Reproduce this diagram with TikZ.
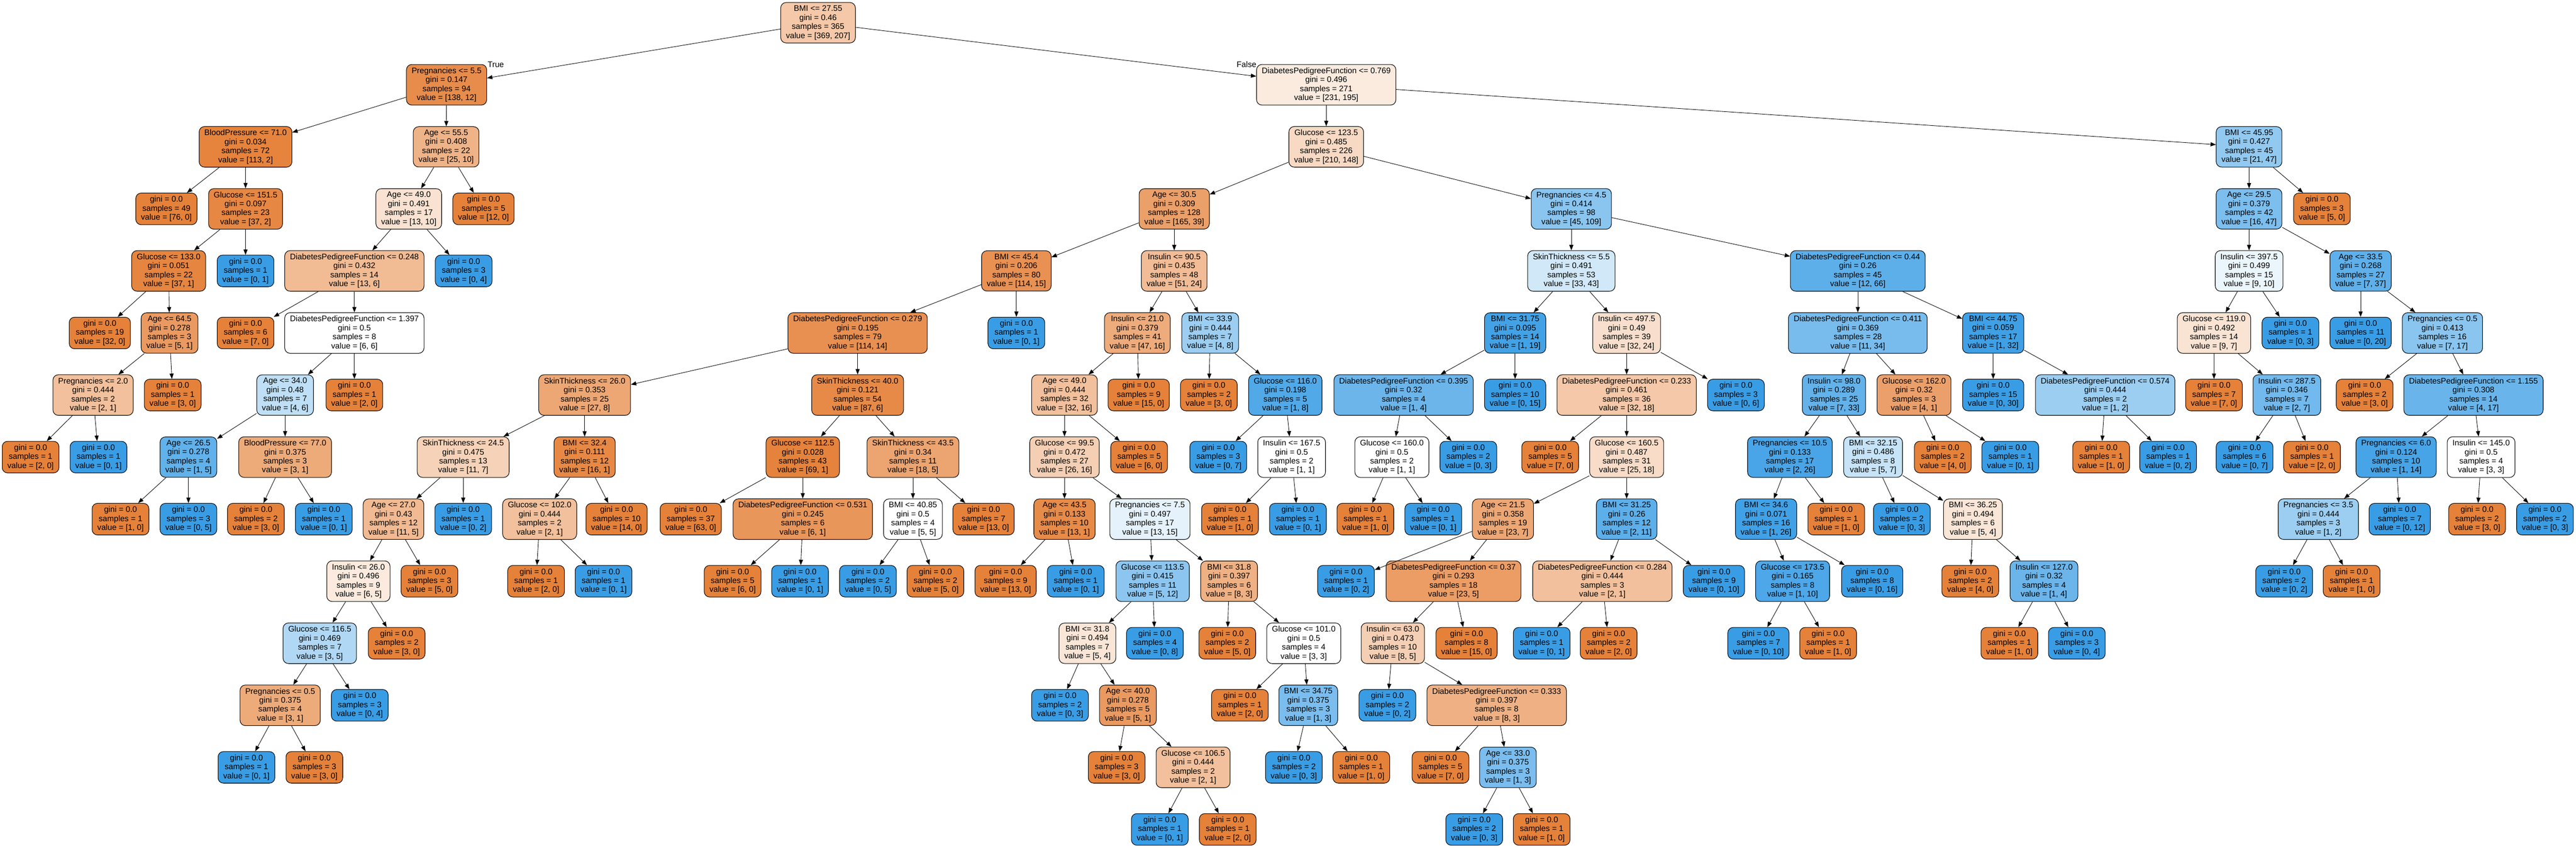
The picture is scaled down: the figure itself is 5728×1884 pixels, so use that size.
\documentclass[tikz,border=0pt]{standalone}
\usepackage{fontspec}
\setmainfont{Liberation Sans}
\usetikzlibrary{arrows.meta}
\definecolor{orangecls}{RGB}{229,129,57}
\definecolor{bluecls}{RGB}{57,157,229}
\tikzset{
  split/.style={draw, line width=0.6pt, rounded corners=6pt, align=center, inner xsep=5.8pt, inner ysep=3.4pt, font=\fontsize{8.95}{10}\selectfont},
  tinto/.style={split, fill=orangecls!#1!white},
  tintb/.style={split, fill=bluecls!#1!white},
  leafo/.style={split, fill=orangecls},
  leafb/.style={split, fill=bluecls},
  edge/.style={-{Triangle[length=6pt,width=4.5pt]}, line width=0.5pt},
  edgelbl/.style={inner sep=0pt, font=\fontsize{8.95}{10}\selectfont}
}
\begin{document}
\begin{tikzpicture}[x=0.5pt,y=0.5pt,yscale=-1,xscale=1]
\useasboundingbox (0,0) rectangle (5728,1884);

%Tree: left branch (BMI <= 27.55 true)
\draw (1819,50.5) node [tinto=44] (n0) {BMI <= 27.55\\gini = 0.46\\samples = 365\\value = [369, 207]};
\draw (993,188.4) node [tinto=91] (n1) {Pregnancies <= 5.5\\gini = 0.147\\samples = 94\\value = [138, 12]};
\draw (546,326.3) node [tinto=98] (n2) {BloodPressure <= 71.0\\gini = 0.034\\samples = 72\\value = [113, 2]};
\draw (370,464.2) node [leafo] (n3) {gini = 0.0\\samples = 49\\value = [76, 0]};
\draw (546,464.2) node [tinto=95] (n4) {Glucose <= 151.5\\gini = 0.097\\samples = 23\\value = [37, 2]};
\draw (375,602.1) node [tinto=97] (n5) {Glucose <= 133.0\\gini = 0.051\\samples = 22\\value = [37, 1]};
\draw (222,740) node [leafo] (n6) {gini = 0.0\\samples = 19\\value = [32, 0]};
\draw (377,740) node [tinto=80] (n7) {Age <= 64.5\\gini = 0.278\\samples = 3\\value = [5, 1]};
\draw (207,877.9) node [tinto=50] (n8) {Pregnancies <= 2.0\\gini = 0.444\\samples = 2\\value = [2, 1]};
\draw (68,1015.8) node [leafo] (n9) {gini = 0.0\\samples = 1\\value = [2, 0]};
\draw (219,1015.8) node [leafb] (n10) {gini = 0.0\\samples = 1\\value = [0, 1]};
\draw (384,877.9) node [leafo] (n11) {gini = 0.0\\samples = 1\\value = [3, 0]};
\draw (546,602.1) node [leafb] (n12) {gini = 0.0\\samples = 1\\value = [0, 1]};
\draw (992,326.3) node [tinto=60] (n13) {Age <= 55.5\\gini = 0.408\\samples = 22\\value = [25, 10]};
\draw (909,464.2) node [tinto=23] (n14) {Age <= 49.0\\gini = 0.491\\samples = 17\\value = [13, 10]};
\draw (788,602.1) node [tinto=54] (n15) {DiabetesPedigreeFunction <= 0.248\\gini = 0.432\\samples = 14\\value = [13, 6]};
\draw (546,740) node [leafo] (n16) {gini = 0.0\\samples = 6\\value = [7, 0]};
\draw (788,740) node [tinto=0] (n17) {DiabetesPedigreeFunction <= 1.397\\gini = 0.5\\samples = 8\\value = [6, 6]};
\draw (634,877.9) node [tintb=33] (n18) {Age <= 34.0\\gini = 0.48\\samples = 7\\value = [4, 6]};
\draw (419,1015.8) node [tintb=80] (n19) {Age <= 26.5\\gini = 0.278\\samples = 4\\value = [1, 5]};
\draw (268,1153.7) node [leafo] (n20) {gini = 0.0\\samples = 1\\value = [1, 0]};
\draw (419,1153.7) node [leafb] (n21) {gini = 0.0\\samples = 3\\value = [0, 5]};
\draw (634,1015.8) node [tinto=67] (n22) {BloodPressure <= 77.0\\gini = 0.375\\samples = 3\\value = [3, 1]};
\draw (569,1153.7) node [leafo] (n23) {gini = 0.0\\samples = 2\\value = [3, 0]};
\draw (720,1153.7) node [leafb] (n24) {gini = 0.0\\samples = 1\\value = [0, 1]};
\draw (788,877.9) node [leafo] (n25) {gini = 0.0\\samples = 1\\value = [2, 0]};
\draw (1031,602.1) node [leafb] (n26) {gini = 0.0\\samples = 3\\value = [0, 4]};
\draw (1075,464.2) node [leafo] (n27) {gini = 0.0\\samples = 5\\value = [12, 0]};

%Tree: right branch, Glucose <= 123.5 true
\draw (2949,188.4) node [tinto=16] (n28) {DiabetesPedigreeFunction <= 0.769\\gini = 0.496\\samples = 271\\value = [231, 195]};
\draw (2949,326.3) node [tinto=30] (n29) {Glucose <= 123.5\\gini = 0.485\\samples = 226\\value = [210, 148]};
\draw (2611,464.2) node [tinto=76] (n30) {Age <= 30.5\\gini = 0.309\\samples = 128\\value = [165, 39]};
\draw (2260,602.1) node [tinto=87] (n31) {BMI <= 45.4\\gini = 0.206\\samples = 80\\value = [114, 15]};
\draw (1907,740) node [tinto=88] (n32) {DiabetesPedigreeFunction <= 0.279\\gini = 0.195\\samples = 79\\value = [114, 14]};
\draw (1300,877.9) node [tinto=70] (n33) {SkinThickness <= 26.0\\gini = 0.353\\samples = 25\\value = [27, 8]};
\draw (1030,1015.8) node [tinto=36] (n34) {SkinThickness <= 24.5\\gini = 0.475\\samples = 13\\value = [11, 7]};
\draw (875,1153.7) node [tinto=55] (n35) {Age <= 27.0\\gini = 0.43\\samples = 12\\value = [11, 5]};
\draw (797,1291.6) node [tinto=17] (n36) {Insulin <= 26.0\\gini = 0.496\\samples = 9\\value = [6, 5]};
\draw (711,1429.5) node [tintb=40] (n37) {Glucose <= 116.5\\gini = 0.469\\samples = 7\\value = [3, 5]};
\draw (623,1567.4) node [tinto=67] (n38) {Pregnancies <= 0.5\\gini = 0.375\\samples = 4\\value = [3, 1]};
\draw (548,1705.3) node [leafb] (n39) {gini = 0.0\\samples = 1\\value = [0, 1]};
\draw (699,1705.3) node [leafo] (n40) {gini = 0.0\\samples = 3\\value = [3, 0]};
\draw (800,1567.4) node [leafb] (n41) {gini = 0.0\\samples = 3\\value = [0, 4]};
\draw (882,1429.5) node [leafo] (n42) {gini = 0.0\\samples = 2\\value = [3, 0]};
\draw (955,1291.6) node [leafo] (n43) {gini = 0.0\\samples = 3\\value = [5, 0]};
\draw (1030,1153.7) node [leafb] (n44) {gini = 0.0\\samples = 1\\value = [0, 2]};
\draw (1300,1015.8) node [tinto=94] (n45) {BMI <= 32.4\\gini = 0.111\\samples = 12\\value = [16, 1]};
\draw (1200,1153.7) node [tinto=50] (n46) {Glucose <= 102.0\\gini = 0.444\\samples = 2\\value = [2, 1]};
\draw (1192,1291.6) node [leafo] (n47) {gini = 0.0\\samples = 1\\value = [2, 0]};
\draw (1342,1291.6) node [leafb] (n48) {gini = 0.0\\samples = 1\\value = [0, 1]};
\draw (1371,1153.7) node [leafo] (n49) {gini = 0.0\\samples = 10\\value = [14, 0]};
\draw (1907,877.9) node [tinto=93] (n50) {SkinThickness <= 40.0\\gini = 0.121\\samples = 54\\value = [87, 6]};
\draw (1785,1015.8) node [tinto=99] (n51) {Glucose <= 112.5\\gini = 0.028\\samples = 43\\value = [69, 1]};
\draw (1536,1153.7) node [leafo] (n52) {gini = 0.0\\samples = 37\\value = [63, 0]};
\draw (1785,1153.7) node [tinto=83] (n53) {DiabetesPedigreeFunction <= 0.531\\gini = 0.245\\samples = 6\\value = [6, 1]};
\draw (1629,1291.6) node [leafo] (n54) {gini = 0.0\\samples = 5\\value = [6, 0]};
\draw (1779,1291.6) node [leafb] (n55) {gini = 0.0\\samples = 1\\value = [0, 1]};
\draw (2030,1015.8) node [tinto=72] (n56) {SkinThickness <= 43.5\\gini = 0.34\\samples = 11\\value = [18, 5]};
\draw (2030,1153.7) node [tinto=0] (n57) {BMI <= 40.85\\gini = 0.5\\samples = 4\\value = [5, 5]};
\draw (1930,1291.6) node [leafb] (n58) {gini = 0.0\\samples = 2\\value = [0, 5]};
\draw (2080,1291.6) node [leafo] (n59) {gini = 0.0\\samples = 2\\value = [5, 0]};
\draw (2187,1153.7) node [leafo] (n60) {gini = 0.0\\samples = 7\\value = [13, 0]};
\draw (2260,740) node [leafb] (n61) {gini = 0.0\\samples = 1\\value = [0, 1]};
\draw (2611,602.1) node [tinto=53] (n62) {Insulin <= 90.5\\gini = 0.435\\samples = 48\\value = [51, 24]};
\draw (2529,740) node [tinto=66] (n63) {Insulin <= 21.0\\gini = 0.379\\samples = 41\\value = [47, 16]};
\draw (2367,877.9) node [tinto=50] (n64) {Age <= 49.0\\gini = 0.444\\samples = 32\\value = [32, 16]};
\draw (2367,1015.8) node [tinto=38] (n65) {Glucose <= 99.5\\gini = 0.472\\samples = 27\\value = [26, 16]};
\draw (2367,1153.7) node [tinto=92] (n66) {Age <= 43.5\\gini = 0.133\\samples = 10\\value = [13, 1]};
\draw (2236,1291.6) node [leafo] (n67) {gini = 0.0\\samples = 9\\value = [13, 0]};
\draw (2392,1291.6) node [leafb] (n68) {gini = 0.0\\samples = 1\\value = [0, 1]};
\draw (2557,1153.7) node [tintb=13] (n69) {Pregnancies <= 7.5\\gini = 0.497\\samples = 17\\value = [13, 15]};
\draw (2563,1291.6) node [tintb=58] (n70) {Glucose <= 113.5\\gini = 0.415\\samples = 11\\value = [5, 12]};
\draw (2418,1429.5) node [tinto=20] (n71) {BMI <= 31.8\\gini = 0.494\\samples = 7\\value = [5, 4]};
\draw (2357,1567.4) node [leafb] (n72) {gini = 0.0\\samples = 2\\value = [0, 3]};
\draw (2508,1567.4) node [tinto=80] (n73) {Age <= 40.0\\gini = 0.278\\samples = 5\\value = [5, 1]};
\draw (2483,1705.3) node [leafo] (n74) {gini = 0.0\\samples = 3\\value = [3, 0]};
\draw (2653,1705.3) node [tinto=50] (n75) {Glucose <= 106.5\\gini = 0.444\\samples = 2\\value = [2, 1]};
\draw (2579,1843.2) node [leafb] (n76) {gini = 0.0\\samples = 1\\value = [0, 1]};
\draw (2730,1843.2) node [leafo] (n77) {gini = 0.0\\samples = 1\\value = [2, 0]};
\draw (2568,1429.5) node [leafb] (n78) {gini = 0.0\\samples = 4\\value = [0, 8]};
\draw (2733,1291.6) node [tinto=62] (n79) {BMI <= 31.8\\gini = 0.397\\samples = 6\\value = [8, 3]};
\draw (2729,1429.5) node [leafo] (n80) {gini = 0.0\\samples = 2\\value = [5, 0]};
\draw (2899,1429.5) node [tinto=0] (n81) {Glucose <= 101.0\\gini = 0.5\\samples = 4\\value = [3, 3]};
\draw (2757,1567.4) node [leafo] (n82) {gini = 0.0\\samples = 1\\value = [2, 0]};
\draw (2909,1567.4) node [tintb=67] (n83) {BMI <= 34.75\\gini = 0.375\\samples = 3\\value = [1, 3]};
\draw (2877,1705.3) node [leafb] (n84) {gini = 0.0\\samples = 2\\value = [0, 3]};
\draw (3027,1705.3) node [leafo] (n85) {gini = 0.0\\samples = 1\\value = [1, 0]};
\draw (2533,1015.8) node [leafo] (n86) {gini = 0.0\\samples = 5\\value = [6, 0]};
\draw (2532,877.9) node [leafo] (n87) {gini = 0.0\\samples = 9\\value = [15, 0]};
\draw (2691,740) node [tintb=50] (n88) {BMI <= 33.9\\gini = 0.444\\samples = 7\\value = [4, 8]};
\draw (2688,877.9) node [leafo] (n89) {gini = 0.0\\samples = 2\\value = [3, 0]};
\draw (2858,877.9) node [tintb=88] (n90) {Glucose <= 116.0\\gini = 0.198\\samples = 5\\value = [1, 8]};
\draw (2709,1015.8) node [leafb] (n91) {gini = 0.0\\samples = 3\\value = [0, 7]};
\draw (2872,1015.8) node [tinto=0] (n92) {Insulin <= 167.5\\gini = 0.5\\samples = 2\\value = [1, 1]};
\draw (2735,1153.7) node [leafo] (n93) {gini = 0.0\\samples = 1\\value = [1, 0]};
\draw (2886,1153.7) node [leafb] (n94) {gini = 0.0\\samples = 1\\value = [0, 1]};

%Tree: right branch, Glucose <= 123.5 false
\draw (3494,464.2) node [tintb=59] (n95) {Pregnancies <= 4.5\\gini = 0.414\\samples = 98\\value = [45, 109]};
\draw (3494,602.1) node [tintb=23] (n96) {SkinThickness <= 5.5\\gini = 0.491\\samples = 53\\value = [33, 43]};
\draw (3369,740) node [tintb=95] (n97) {BMI <= 31.75\\gini = 0.095\\samples = 14\\value = [1, 19]};
\draw (3121,877.9) node [tintb=75] (n98) {DiabetesPedigreeFunction <= 0.395\\gini = 0.32\\samples = 4\\value = [1, 4]};
\draw (3095,1015.8) node [tinto=0] (n99) {Glucose <= 160.0\\gini = 0.5\\samples = 2\\value = [1, 1]};
\draw (3036,1153.7) node [leafo] (n100) {gini = 0.0\\samples = 1\\value = [1, 0]};
\draw (3187,1153.7) node [leafb] (n101) {gini = 0.0\\samples = 1\\value = [0, 1]};
\draw (3265,1015.8) node [leafb] (n102) {gini = 0.0\\samples = 2\\value = [0, 3]};
\draw (3369,877.9) node [leafb] (n103) {gini = 0.0\\samples = 10\\value = [0, 15]};
\draw (3617,740) node [tinto=25] (n104) {Insulin <= 497.5\\gini = 0.49\\samples = 39\\value = [32, 24]};
\draw (3617,877.9) node [tinto=44] (n105) {DiabetesPedigreeFunction <= 0.233\\gini = 0.461\\samples = 36\\value = [32, 18]};
\draw (3447,1015.8) node [leafo] (n106) {gini = 0.0\\samples = 5\\value = [7, 0]};
\draw (3617,1015.8) node [tinto=28] (n107) {Glucose <= 160.5\\gini = 0.487\\samples = 31\\value = [25, 18]};
\draw (3342,1153.7) node [tinto=70] (n108) {Age <= 21.5\\gini = 0.358\\samples = 19\\value = [23, 7]};
\draw (2993,1291.6) node [leafb] (n109) {gini = 0.0\\samples = 1\\value = [0, 2]};
\draw (3232,1291.6) node [tinto=78] (n110) {DiabetesPedigreeFunction <= 0.37\\gini = 0.293\\samples = 18\\value = [23, 5]};
\draw (3097,1429.5) node [tinto=38] (n111) {Insulin <= 63.0\\gini = 0.473\\samples = 10\\value = [8, 5]};
\draw (3085,1567.4) node [leafb] (n112) {gini = 0.0\\samples = 2\\value = [0, 2]};
\draw (3328,1567.4) node [tinto=62] (n113) {DiabetesPedigreeFunction <= 0.333\\gini = 0.397\\samples = 8\\value = [8, 3]};
\draw (3203,1705.3) node [leafo] (n114) {gini = 0.0\\samples = 5\\value = [7, 0]};
\draw (3353,1705.3) node [tintb=67] (n115) {Age <= 33.0\\gini = 0.375\\samples = 3\\value = [1, 3]};
\draw (3278,1843.2) node [leafb] (n116) {gini = 0.0\\samples = 2\\value = [0, 3]};
\draw (3428,1843.2) node [leafo] (n117) {gini = 0.0\\samples = 1\\value = [1, 0]};
\draw (3261,1429.5) node [leafo] (n118) {gini = 0.0\\samples = 8\\value = [15, 0]};
\draw (3617,1153.7) node [tintb=82] (n119) {BMI <= 31.25\\gini = 0.26\\samples = 12\\value = [2, 11]};
\draw (3563,1291.6) node [tinto=50] (n120) {DiabetesPedigreeFunction <= 0.284\\gini = 0.444\\samples = 3\\value = [2, 1]};
\draw (3428,1429.5) node [leafb] (n121) {gini = 0.0\\samples = 1\\value = [0, 1]};
\draw (3577,1429.5) node [leafo] (n122) {gini = 0.0\\samples = 2\\value = [2, 0]};
\draw (3811,1291.6) node [leafb] (n123) {gini = 0.0\\samples = 9\\value = [0, 10]};
\draw (3860,877.9) node [leafb] (n124) {gini = 0.0\\samples = 3\\value = [0, 6]};
\draw (4131,602.1) node [tintb=82] (n125) {DiabetesPedigreeFunction <= 0.44\\gini = 0.26\\samples = 45\\value = [12, 66]};
\draw (4131,740) node [tintb=68] (n126) {DiabetesPedigreeFunction <= 0.411\\gini = 0.369\\samples = 28\\value = [11, 34]};
\draw (4078,877.9) node [tintb=79] (n127) {Insulin <= 98.0\\gini = 0.289\\samples = 25\\value = [7, 33]};
\draw (3980,1015.8) node [tintb=92] (n128) {Pregnancies <= 10.5\\gini = 0.133\\samples = 17\\value = [2, 26]};
\draw (3927,1153.7) node [tintb=96] (n129) {BMI <= 34.6\\gini = 0.071\\samples = 16\\value = [1, 26]};
\draw (3986,1291.6) node [tintb=90] (n130) {Glucose <= 173.5\\gini = 0.165\\samples = 8\\value = [1, 10]};
\draw (3910,1429.5) node [leafb] (n131) {gini = 0.0\\samples = 7\\value = [0, 10]};
\draw (4065,1429.5) node [leafo] (n132) {gini = 0.0\\samples = 1\\value = [1, 0]};
\draw (4163,1291.6) node [leafb] (n133) {gini = 0.0\\samples = 8\\value = [0, 16]};
\draw (4083,1153.7) node [leafo] (n134) {gini = 0.0\\samples = 1\\value = [1, 0]};
\draw (4165,1015.8) node [tintb=29] (n135) {BMI <= 32.15\\gini = 0.486\\samples = 8\\value = [5, 7]};
\draw (4229,1153.7) node [leafb] (n136) {gini = 0.0\\samples = 2\\value = [0, 3]};
\draw (4387,1153.7) node [tinto=20] (n137) {BMI <= 36.25\\gini = 0.494\\samples = 6\\value = [5, 4]};
\draw (4381,1291.6) node [leafo] (n138) {gini = 0.0\\samples = 2\\value = [4, 0]};
\draw (4545,1291.6) node [tintb=75] (n139) {Insulin <= 127.0\\gini = 0.32\\samples = 4\\value = [1, 4]};
\draw (4468,1429.5) node [leafo] (n140) {gini = 0.0\\samples = 1\\value = [1, 0]};
\draw (4618,1429.5) node [leafb] (n141) {gini = 0.0\\samples = 3\\value = [0, 4]};
\draw (4256,877.9) node [tinto=75] (n142) {Glucose <= 162.0\\gini = 0.32\\samples = 3\\value = [4, 1]};
\draw (4320,1015.8) node [leafo] (n143) {gini = 0.0\\samples = 2\\value = [4, 0]};
\draw (4470,1015.8) node [leafb] (n144) {gini = 0.0\\samples = 1\\value = [0, 1]};
\draw (4432,740) node [tintb=97] (n145) {BMI <= 44.75\\gini = 0.059\\samples = 17\\value = [1, 32]};
\draw (4432,877.9) node [leafb] (n146) {gini = 0.0\\samples = 15\\value = [0, 30]};
\draw (4681,877.9) node [tintb=50] (n147) {DiabetesPedigreeFunction <= 0.574\\gini = 0.444\\samples = 2\\value = [1, 2]};
\draw (4672,1015.8) node [leafo] (n148) {gini = 0.0\\samples = 1\\value = [1, 0]};
\draw (4821,1015.8) node [leafb] (n149) {gini = 0.0\\samples = 1\\value = [0, 2]};

%Tree: right branch, BMI <= 45.95
\draw (5001,326.3) node [tintb=55] (n150) {BMI <= 45.95\\gini = 0.427\\samples = 45\\value = [21, 47]};
\draw (5001,464.2) node [tintb=66] (n151) {Age <= 29.5\\gini = 0.379\\samples = 42\\value = [16, 47]};
\draw (5001,602.1) node [tintb=10] (n152) {Insulin <= 397.5\\gini = 0.499\\samples = 15\\value = [9, 10]};
\draw (4923,740) node [tinto=22] (n153) {Glucose <= 119.0\\gini = 0.492\\samples = 14\\value = [9, 7]};
\draw (4923,877.9) node [leafo] (n154) {gini = 0.0\\samples = 7\\value = [7, 0]};
\draw (5085,877.9) node [tintb=71] (n155) {Insulin <= 287.5\\gini = 0.346\\samples = 7\\value = [2, 7]};
\draw (4991,1015.8) node [leafb] (n156) {gini = 0.0\\samples = 6\\value = [0, 7]};
\draw (5141,1015.8) node [leafo] (n157) {gini = 0.0\\samples = 1\\value = [2, 0]};
\draw (5093,740) node [leafb] (n158) {gini = 0.0\\samples = 1\\value = [0, 3]};
\draw (5249,602.1) node [tintb=81] (n159) {Age <= 33.5\\gini = 0.268\\samples = 27\\value = [7, 37]};
\draw (5249,740) node [leafb] (n160) {gini = 0.0\\samples = 11\\value = [0, 20]};
\draw (5431,740) node [tintb=59] (n161) {Pregnancies <= 0.5\\gini = 0.413\\samples = 16\\value = [7, 17]};
\draw (5258,877.9) node [leafo] (n162) {gini = 0.0\\samples = 2\\value = [3, 0]};
\draw (5500,877.9) node [tintb=76] (n163) {DiabetesPedigreeFunction <= 1.155\\gini = 0.308\\samples = 14\\value = [4, 17]};
\draw (5328,1015.8) node [tintb=93] (n164) {Pregnancies <= 6.0\\gini = 0.124\\samples = 10\\value = [1, 14]};
\draw (5155,1153.7) node [tintb=50] (n165) {Pregnancies <= 3.5\\gini = 0.444\\samples = 3\\value = [1, 2]};
\draw (5079,1291.6) node [leafb] (n166) {gini = 0.0\\samples = 2\\value = [0, 2]};
\draw (5229,1291.6) node [leafo] (n167) {gini = 0.0\\samples = 1\\value = [1, 0]};
\draw (5336,1153.7) node [leafb] (n168) {gini = 0.0\\samples = 7\\value = [0, 12]};
\draw (5517,1015.8) node [tinto=0] (n169) {Insulin <= 145.0\\gini = 0.5\\samples = 4\\value = [3, 3]};
\draw (5508,1153.7) node [leafo] (n170) {gini = 0.0\\samples = 2\\value = [3, 0]};
\draw (5659,1153.7) node [leafb] (n171) {gini = 0.0\\samples = 2\\value = [0, 3]};
\draw (5163,464.2) node [leafo] (n172) {gini = 0.0\\samples = 3\\value = [5, 0]};

% Text Node
\draw (1084,150) node [edgelbl, anchor=base west] (lbltrue) {True};
% Text Node
\draw (2794,149) node [edgelbl, anchor=base east] (lblfalse) {False};

%Straight Lines
\draw [edge] (n0) -- (n1);
\draw [edge] (n0) -- (n28);
\draw [edge] (n1) -- (n2);
\draw [edge] (n1) -- (n13);
\draw [edge] (n2) -- (n3);
\draw [edge] (n2) -- (n4);
\draw [edge] (n4) -- (n5);
\draw [edge] (n4) -- (n12);
\draw [edge] (n5) -- (n6);
\draw [edge] (n5) -- (n7);
\draw [edge] (n7) -- (n8);
\draw [edge] (n7) -- (n11);
\draw [edge] (n8) -- (n9);
\draw [edge] (n8) -- (n10);
\draw [edge] (n13) -- (n14);
\draw [edge] (n13) -- (n27);
\draw [edge] (n14) -- (n15);
\draw [edge] (n14) -- (n26);
\draw [edge] (n15) -- (n16);
\draw [edge] (n15) -- (n17);
\draw [edge] (n17) -- (n18);
\draw [edge] (n17) -- (n25);
\draw [edge] (n18) -- (n19);
\draw [edge] (n18) -- (n22);
\draw [edge] (n19) -- (n20);
\draw [edge] (n19) -- (n21);
\draw [edge] (n22) -- (n23);
\draw [edge] (n22) -- (n24);
\draw [edge] (n28) -- (n29);
\draw [edge] (n28) -- (n150);
\draw [edge] (n29) -- (n30);
\draw [edge] (n29) -- (n95);
\draw [edge] (n30) -- (n31);
\draw [edge] (n30) -- (n62);
\draw [edge] (n31) -- (n32);
\draw [edge] (n31) -- (n61);
\draw [edge] (n32) -- (n33);
\draw [edge] (n32) -- (n50);
\draw [edge] (n33) -- (n34);
\draw [edge] (n33) -- (n45);
\draw [edge] (n34) -- (n35);
\draw [edge] (n34) -- (n44);
\draw [edge] (n35) -- (n36);
\draw [edge] (n35) -- (n43);
\draw [edge] (n36) -- (n37);
\draw [edge] (n36) -- (n42);
\draw [edge] (n37) -- (n38);
\draw [edge] (n37) -- (n41);
\draw [edge] (n38) -- (n39);
\draw [edge] (n38) -- (n40);
\draw [edge] (n45) -- (n46);
\draw [edge] (n45) -- (n49);
\draw [edge] (n46) -- (n47);
\draw [edge] (n46) -- (n48);
\draw [edge] (n50) -- (n51);
\draw [edge] (n50) -- (n56);
\draw [edge] (n51) -- (n52);
\draw [edge] (n51) -- (n53);
\draw [edge] (n53) -- (n54);
\draw [edge] (n53) -- (n55);
\draw [edge] (n56) -- (n57);
\draw [edge] (n56) -- (n60);
\draw [edge] (n57) -- (n58);
\draw [edge] (n57) -- (n59);
\draw [edge] (n62) -- (n63);
\draw [edge] (n62) -- (n88);
\draw [edge] (n63) -- (n64);
\draw [edge] (n63) -- (n87);
\draw [edge] (n64) -- (n65);
\draw [edge] (n64) -- (n86);
\draw [edge] (n65) -- (n66);
\draw [edge] (n65) -- (n69);
\draw [edge] (n66) -- (n67);
\draw [edge] (n66) -- (n68);
\draw [edge] (n69) -- (n70);
\draw [edge] (n69) -- (n79);
\draw [edge] (n70) -- (n71);
\draw [edge] (n70) -- (n78);
\draw [edge] (n71) -- (n72);
\draw [edge] (n71) -- (n73);
\draw [edge] (n73) -- (n74);
\draw [edge] (n73) -- (n75);
\draw [edge] (n75) -- (n76);
\draw [edge] (n75) -- (n77);
\draw [edge] (n79) -- (n80);
\draw [edge] (n79) -- (n81);
\draw [edge] (n81) -- (n82);
\draw [edge] (n81) -- (n83);
\draw [edge] (n83) -- (n84);
\draw [edge] (n83) -- (n85);
\draw [edge] (n88) -- (n89);
\draw [edge] (n88) -- (n90);
\draw [edge] (n90) -- (n91);
\draw [edge] (n90) -- (n92);
\draw [edge] (n92) -- (n93);
\draw [edge] (n92) -- (n94);
\draw [edge] (n95) -- (n96);
\draw [edge] (n95) -- (n125);
\draw [edge] (n96) -- (n97);
\draw [edge] (n96) -- (n104);
\draw [edge] (n97) -- (n98);
\draw [edge] (n97) -- (n103);
\draw [edge] (n98) -- (n99);
\draw [edge] (n98) -- (n102);
\draw [edge] (n99) -- (n100);
\draw [edge] (n99) -- (n101);
\draw [edge] (n104) -- (n105);
\draw [edge] (n104) -- (n124);
\draw [edge] (n105) -- (n106);
\draw [edge] (n105) -- (n107);
\draw [edge] (n107) -- (n108);
\draw [edge] (n107) -- (n119);
\draw [edge] (n108) -- (n109);
\draw [edge] (n108) -- (n110);
\draw [edge] (n110) -- (n111);
\draw [edge] (n110) -- (n118);
\draw [edge] (n111) -- (n112);
\draw [edge] (n111) -- (n113);
\draw [edge] (n113) -- (n114);
\draw [edge] (n113) -- (n115);
\draw [edge] (n115) -- (n116);
\draw [edge] (n115) -- (n117);
\draw [edge] (n119) -- (n120);
\draw [edge] (n119) -- (n123);
\draw [edge] (n120) -- (n121);
\draw [edge] (n120) -- (n122);
\draw [edge] (n125) -- (n126);
\draw [edge] (n125) -- (n145);
\draw [edge] (n126) -- (n127);
\draw [edge] (n126) -- (n142);
\draw [edge] (n127) -- (n128);
\draw [edge] (n127) -- (n135);
\draw [edge] (n128) -- (n129);
\draw [edge] (n128) -- (n134);
\draw [edge] (n129) -- (n130);
\draw [edge] (n129) -- (n133);
\draw [edge] (n130) -- (n131);
\draw [edge] (n130) -- (n132);
\draw [edge] (n135) -- (n136);
\draw [edge] (n135) -- (n137);
\draw [edge] (n137) -- (n138);
\draw [edge] (n137) -- (n139);
\draw [edge] (n139) -- (n140);
\draw [edge] (n139) -- (n141);
\draw [edge] (n142) -- (n143);
\draw [edge] (n142) -- (n144);
\draw [edge] (n145) -- (n146);
\draw [edge] (n145) -- (n147);
\draw [edge] (n147) -- (n148);
\draw [edge] (n147) -- (n149);
\draw [edge] (n150) -- (n151);
\draw [edge] (n150) -- (n172);
\draw [edge] (n151) -- (n152);
\draw [edge] (n151) -- (n159);
\draw [edge] (n152) -- (n153);
\draw [edge] (n152) -- (n158);
\draw [edge] (n153) -- (n154);
\draw [edge] (n153) -- (n155);
\draw [edge] (n155) -- (n156);
\draw [edge] (n155) -- (n157);
\draw [edge] (n159) -- (n160);
\draw [edge] (n159) -- (n161);
\draw [edge] (n161) -- (n162);
\draw [edge] (n161) -- (n163);
\draw [edge] (n163) -- (n164);
\draw [edge] (n163) -- (n169);
\draw [edge] (n164) -- (n165);
\draw [edge] (n164) -- (n168);
\draw [edge] (n165) -- (n166);
\draw [edge] (n165) -- (n167);
\draw [edge] (n169) -- (n170);
\draw [edge] (n169) -- (n171);

\end{tikzpicture}
\end{document}
